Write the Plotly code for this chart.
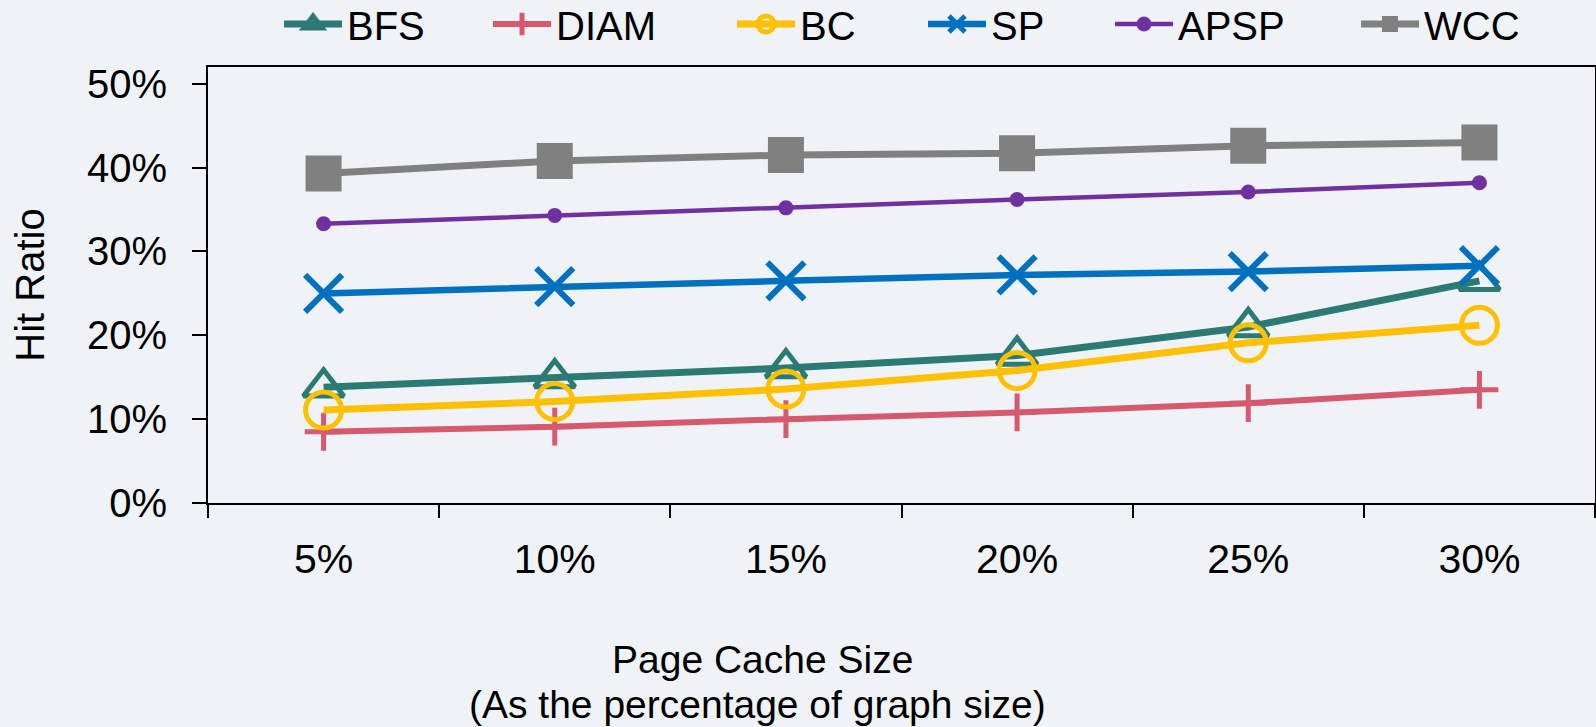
import plotly.graph_objects as go

# Page cache size (share of graph size) on the x axis
cache_sizes = ["5%", "10%", "15%", "20%", "25%", "30%"]

# Hit ratio (%) per algorithm
bfs = [13.8, 14.9, 16.1, 17.6, 21.0, 26.5]
diam = [8.5, 9.1, 10.0, 10.8, 11.9, 13.5]
bc = [11.1, 12.1, 13.6, 15.8, 19.1, 21.2]
sp = [25.0, 25.8, 26.5, 27.2, 27.6, 28.3]
apsp = [33.3, 34.3, 35.2, 36.2, 37.1, 38.2]
wcc = [39.3, 40.8, 41.5, 41.7, 42.6, 43.0]

y_ticks = [0, 10, 20, 30, 40, 50]
y_tick_labels = ["0%", "10%", "20%", "30%", "40%", "50%"]

FONT = "Liberation Sans, Arial, Helvetica, sans-serif"
BG = "#EFF3F8"

series = [
    # name, values, colour, symbol, marker size, line width, marker line width
    ("BFS", bfs, "#2B7B74", "triangle-up-open", 35, 7, 5),
    ("DIAM", diam, "#D6596D", "cross-thin-open", 27, 6, 5),
    ("BC", bc, "#FFC000", "circle-open", 36, 7, 5),
    ("SP", sp, "#0070C0", "x-thin-open", 37, 6.5, 6),
    ("APSP", apsp, "#7030A0", "circle", 15, 4.5, 0),
    ("WCC", wcc, "#808080", "square", 36, 7, 0),
]

# left edge (px) of each legend entry; the plot spans 208..1595
legend_px = [279, 488, 732, 923, 1110, 1356]
PLOT_L, PLOT_R, PLOT_T, PLOT_B = 208, 1595, 67, 503
PLOT_H = PLOT_B - PLOT_T

fig = go.Figure()
layout_legends = {}
for i, (name, vals, col, sym, ms, lw, mlw) in enumerate(series):
    key = "legend" if i == 0 else f"legend{i + 1}"
    fig.add_trace(go.Scatter(
        x=cache_sizes, y=vals, name=name, mode="lines+markers",
        line=dict(color=col, width=lw),
        marker=dict(symbol=sym, size=ms, color=col,
                    line=dict(color=col, width=mlw)),
        legend=key, cliponaxis=False,
    ))
    layout_legends[key] = dict(
        x=(legend_px[i] - PLOT_L) / (PLOT_R - PLOT_L), xanchor="left",
        y=(PLOT_B - 24) / PLOT_H, yanchor="middle",
        orientation="h", bgcolor="rgba(0,0,0,0)",
        font=dict(family=FONT, size=40, color="#000000"),
        itemwidth=58, borderwidth=0,
    )

fig.update_layout(
    width=1596, height=727,
    margin=dict(l=PLOT_L, r=1596 - PLOT_R, t=PLOT_T, b=727 - PLOT_B,
                autoexpand=False),
    paper_bgcolor=BG, plot_bgcolor=BG,
    font=dict(family=FONT, color="#000000"),
    showlegend=True,
    xaxis=dict(
        type="category", range=[-0.5, 5.5],
        tickson="boundaries", ticks="outside", ticklen=13, tickwidth=1.5,
        tickcolor="#000000",
        showline=True, linecolor="#000000", linewidth=2, mirror=True,
        showgrid=False, zeroline=False,
        tickfont=dict(family=FONT, size=41),
        ticklabelstandoff=19,
    ),
    yaxis=dict(
        range=[0, 52], tickvals=y_ticks, ticktext=y_tick_labels,
        ticks="outside", ticklen=14, tickwidth=2, tickcolor="#000000",
        showline=True, linecolor="#000000", linewidth=2, mirror=True,
        showgrid=False, zeroline=False,
        tickfont=dict(family=FONT, size=40),
        ticklabelstandoff=17,
        title=dict(text="Hit Ratio", font=dict(family=FONT, size=40), standoff=30),
    ),
    # inner half of the cross-style y ticks
    yaxis2=dict(
        overlaying="y", side="left", anchor="x",
        range=[0, 52], tickvals=y_ticks, showticklabels=False,
        ticks="inside", ticklen=13, tickwidth=2, tickcolor="#000000",
        showline=False, showgrid=False, zeroline=False,
    ),
    annotations=[
        dict(text="Page Cache Size", xref="paper", yref="paper",
             x=(762 - PLOT_L) / (PLOT_R - PLOT_L), y=(PLOT_B - 682) / PLOT_H,
             xanchor="center", yanchor="bottom", showarrow=False, borderpad=0,
             font=dict(family=FONT, size=39)),
        dict(text="(As the percentage of graph size)", xref="paper", yref="paper",
             x=(757 - PLOT_L) / (PLOT_R - PLOT_L), y=(PLOT_B - 727) / PLOT_H,
             xanchor="center", yanchor="bottom", showarrow=False, borderpad=0,
             font=dict(family=FONT, size=39)),
    ],
    **layout_legends,
)

fig.write_html("out.html")
